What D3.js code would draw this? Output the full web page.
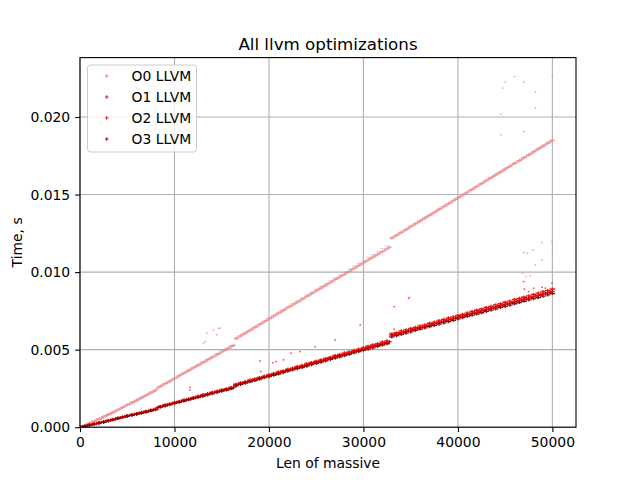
<!DOCTYPE html>
<html>
<head>
<meta charset="utf-8">
<script src="https://cdn.jsdelivr.net/npm/d3@7"></script>
<style>
  html, body { margin: 0; padding: 0; background: #fff; }
  text { font-family: "DejaVu Sans", sans-serif; }
</style>
</head>
<body>
<svg id="chart" width="640" height="480"></svg>
<script>
// ---------- DATA (times in units of 1e-5 s) ----------
const UNIT = 1e-5;
const LEN_FINE = d3.range(0, 50001, 250);    // 201 lengths
const LEN_COARSE = d3.range(0, 50001, 500);  // 101 lengths
const LEN_BASE = d3.range(0, 50001, 1000);   // 51 lengths

const O0_LLVM = [0,6,12,18,25,31,38,45,52,59,66,74,81,88,96,103,111,119,127,135,143,150,158,165,173,181,189,197,205,213,221,229,237,
254,263,271,280,288,297,305,314,322,331,340,348,357,365,374,382,391,399,408,416,425,434,442,451,459,468,476,485,493,502,510,519,527,
571,580,589,598,607,616,625,634,643,652,662,671,680,689,698,
707,716,725,734,743,752,761,770,779,788,797,806,815,824,833,843,852,861,870,879,
888,897,906,915,924,933,942,951,960,969,978,987,996,1005,1014,1024,1033,1042,1051,1060,
1069,1078,1087,1096,1105,1114,1123,1132,1141,1150,1159,
1219,1228,1237,1246,1256,1265,1274,1283,1293,
1302,1311,1321,1330,1339,1348,1358,1367,1376,1386,1395,1404,1413,1423,1432,1441,1450,1460,1469,1478,
1487,1497,1506,1515,1525,1534,1543,1552,1562,1571,1580,1590,1599,1608,1617,1627,1636,1645,1654,1664,
1673,1682,1692,1701,1710,1719,1729,1738,1747,1756,1766,1775,1784,1794,1803,1812,1821,1831,1840,1849];

const O1_LLVM = [0,3,6,10,13,16,20,23,27,31,34,38,42,46,49,53,57,61,64,68,72,76,79,83,86,90,93,97,100,104,108,111,115,
128,132,136,140,144,148,152,156,160,164,168,172,176,180,184,188,192,196,200,204,208,212,216,220,224,228,232,236,240,244,248,252,256,
272,276,281,285,289,294,298,302,306,311,315,319,324,328,332,
336,341,345,349,354,358,362,367,371,375,379,384,388,392,397,401,405,410,414,418,
422,427,431,435,440,444,448,453,457,461,465,470,474,478,483,487,491,496,500,504,
508,513,517,521,526,530,534,539,543,547,551,
592,596,600,604,609,613,617,621,625,
629,634,638,642,646,650,654,659,663,667,671,675,679,684,688,692,696,700,704,709,
713,717,721,725,729,734,738,742,746,750,754,759,763,767,771,775,779,784,788,792,
796,800,804,809,813,817,821,825,829,834,838,842,846,850,854,859,863,867,871,876];

const O2_LLVM = [0,6,13,20,28,35,43,50,58,65,73,81,88,95,102,110,117,
134,143,151,159,167,175,183,191,200,208,216,224,232,240,248,256,
277,286,294,303,311,320,329,338,347,355,364,373,381,390,399,408,417,425,434,442,451,461,469,478,486,495,504,512,522,530,539,548,556,
601,609,619,627,635,644,652,660,669,678,686,695,703,711,720,728,736,746,754,762,771,779,787,796,805,813,822,830,838,847,855,864,873,881,890];

const O3_LLVM = [0,6,13,20,26,33,41,48,56,63,71,77,84,91,98,106,113,
130,137,145,153,161,169,177,185,192,200,208,216,224,232,240,248,
267,276,284,293,301,310,319,326,335,343,352,361,369,378,385,394,403,411,420,428,437,445,453,462,470,479,488,496,504,512,521,530,538,
583,591,599,607,615,624,632,640,649,656,664,673,681,689,698,706,714,722,730,738,747,755,763,772,779,787,796,804,812,821,829,836,845,853,862];

// faint unlabeled runs underneath
const REF_SLOW = [0,12,25,39,53,68,83,98,113,129,145,161,177,193,210,227,244,
263,281,298,316,333,351,369,386,404,421,439,457,474,492,509,527,
571,590,608,627,646,665,683,702,721,739,758,777,795,814,833,852,870,889,908,926,945,964,982,1001,1020,1039,1057,1076,1095,1113,1132,1151,1170,
1220,1238,1257,1275,1294,1312,1331,1349,1368,1386,1405,1423,1442,1460,1479,1497,1516,1534,1553,1571,1590,1608,1627,1645,1664,1682,1701,1719,1738,1756,1775,1793,1812,1830,1849];
const REF_FAST = [0,18,33,48,63,78,93,107,122,
148,164,180,196,213,229,245,261,
291,308,325,343,360,378,395,413,430,447,466,483,500,517,535,553,
606,624,640,657,674,691,708,725,741,759,776,792,810,827,843,860,878,895];

// outliers (length, seconds)
const O0_OUT_LEN = [45020,46000,46960,44740,48200,48200,44560,50000,44560,46960,46960,47320,47950,48910,49970,50000,48200,48910,13420,14120,14650,13240,14480,14830,13065,34890,46850,47210,47670];
const O0_OUT_T   = [0.02225,0.02261,0.02225,0.02186,0.0216,0.02057,0.0202,0.0226,0.01885,0.01906,0.01126,0.01122,0.01143,0.0119,0.01197,0.01122,0.01046,0.01079,0.00606,0.00627,0.00638,0.00552,0.00595,0.00638,0.00541,0.00838,0.00993,0.00971,0.00975];
const O2_OUT_LEN = [11650,11650,19070,19140,20410,20760,21540,22320,23300,24890,27010,29660,33260,33260,34780,46960,47030,47490,48020,48910,49260,49970];
const O2_OUT_T   = [0.00257,0.0024,0.00427,0.00358,0.00416,0.00423,0.00434,0.00477,0.00487,0.00519,0.00563,0.00659,0.00777,0.00632,0.00831,0.00939,0.0089,0.00874,0.00896,0.00902,0.00896,0.00928];

const X_TICKS = [0, 10000, 20000, 30000, 40000, 50000];
const Y_TICKS = [0, 0.005, 0.010, 0.015, 0.020];
const SERIES_NAMES = ["O0 LLVM", "O1 LLVM", "O2 LLVM", "O3 LLVM"];
const SERIES_COLORS = ["#f08080", "#c0141e", "#ff0000", "#8b0000"];

// ---------- CHART ----------
const svg = d3.select("#chart");
const L = 80, R = 576, T = 57.6, B = 427.2;
const x = d3.scaleLinear().domain([0, 52500]).range([L, R]);
const y = d3.scaleLinear().domain([0, 0.02383]).range([B, T]);

svg.append("rect").attr("width", 640).attr("height", 480).attr("fill", "#fff");

svg.append("defs").append("clipPath").attr("id", "clip")
  .append("rect").attr("x", L).attr("y", T).attr("width", R - L).attr("height", B - T);

// grid
const grid = svg.append("g");
grid.selectAll("line.gx").data(X_TICKS).join("line")
  .attr("x1", d => x(d)).attr("x2", d => x(d)).attr("y1", T).attr("y2", B)
  .attr("stroke", "#b0b0b0").attr("stroke-width", 1.1);
grid.selectAll("line.gy").data(Y_TICKS).join("line")
  .attr("y1", d => y(d)).attr("y2", d => y(d)).attr("x1", L).attr("x2", R)
  .attr("stroke", "#b0b0b0").attr("stroke-width", 1.1);

const plus = (rx, ry) => `M${-rx},0H${rx}M0,${-ry}V${ry}`;
const plot = svg.append("g").attr("clip-path", "url(#clip)");

function drawSeries(lens, vals, color, rx, ry, sw, op, scaleUnit) {
  const pts = lens.map((l, i) => [l, vals[i] * scaleUnit]).filter(p => !isNaN(p[1]));
  plot.append("g").selectAll("path").data(pts).join("path")
    .attr("transform", d => `translate(${x(d[0])},${y(d[1])})`)
    .attr("d", plus(rx, ry)).attr("fill", "none")
    .attr("stroke", color).attr("stroke-width", sw).attr("stroke-opacity", op);
}

drawSeries(LEN_COARSE, REF_SLOW, "#a9badf", 2.5, 0.5, 0.6, 0.8, UNIT);
drawSeries(LEN_BASE, REF_FAST, "#c9b07a", 2.6, 1.0, 1.0, 0.9, UNIT);
drawSeries(LEN_FINE, O0_LLVM, SERIES_COLORS[0], 2.2, 1.6, 1.2, 0.8, UNIT);
drawSeries(O0_OUT_LEN, O0_OUT_T, SERIES_COLORS[0], 0.9, 0.9, 0.7, 0.8, 1);
drawSeries(LEN_FINE, O1_LLVM, SERIES_COLORS[1], 2.2, 1.6, 1.3, 0.95, UNIT);
drawSeries(LEN_COARSE, O2_LLVM, SERIES_COLORS[2], 2.8, 1.6, 1.3, 0.95, UNIT);
drawSeries(O2_OUT_LEN, O2_OUT_T, SERIES_COLORS[2], 0.9, 0.9, 0.7, 0.8, 1);
drawSeries(LEN_COARSE, O3_LLVM, SERIES_COLORS[3], 2.8, 1.6, 1.3, 0.95, UNIT);

// axes
const fontPx = 13.9;
const xAxis = svg.append("g").attr("transform", `translate(0,${B})`)
  .call(d3.axisBottom(x).tickValues(X_TICKS).tickFormat(d3.format("d")).tickSize(4.9).tickPadding(4.9));
const yAxis = svg.append("g").attr("transform", `translate(${L},0)`)
  .call(d3.axisLeft(y).tickValues(Y_TICKS).tickFormat(d3.format(".3f")).tickSize(4.9).tickPadding(4.9));
[xAxis, yAxis].forEach(a => {
  a.select(".domain").remove();
  a.selectAll(".tick line").attr("stroke", "#000").attr("stroke-width", 1.1);
  a.selectAll(".tick text").attr("font-size", fontPx).attr("fill", "#000")
    .attr("font-family", "DejaVu Sans, sans-serif");
});

// spines
svg.append("rect").attr("x", L).attr("y", T).attr("width", R - L).attr("height", B - T)
  .attr("fill", "none").attr("stroke", "#000").attr("stroke-width", 1.1);

// labels
svg.append("text").attr("x", (L + R) / 2).attr("y", 49.5).attr("text-anchor", "middle")
  .attr("font-size", 16.7).text("All llvm optimizations");
svg.append("text").attr("x", (L + R) / 2).attr("y", 467.5).attr("text-anchor", "middle")
  .attr("font-size", fontPx).text("Len of massive");
svg.append("text").attr("transform", `translate(21.5,${(T + B) / 2}) rotate(-90)`)
  .attr("text-anchor", "middle").attr("font-size", fontPx).text("Time, s");

// legend
const lg = svg.append("g");
lg.append("rect").attr("x", 87.5).attr("y", 65).attr("width", 109).attr("height", 87)
  .attr("rx", 3).attr("fill", "#fff").attr("fill-opacity", 0.8)
  .attr("stroke", "#cccccc").attr("stroke-width", 1);
SERIES_NAMES.forEach((name, i) => {
  const cy = 76 + i * 21;
  lg.append("path").attr("transform", `translate(106.7,${cy})`).attr("d", plus(1.8, 1.8))
    .attr("fill", "none").attr("stroke", SERIES_COLORS[i]).attr("stroke-width", 0.9);
  lg.append("text").attr("x", 131.5).attr("y", cy).attr("dy", "0.36em")
    .attr("font-size", fontPx).text(name);
});
</script>
</body>
</html>
